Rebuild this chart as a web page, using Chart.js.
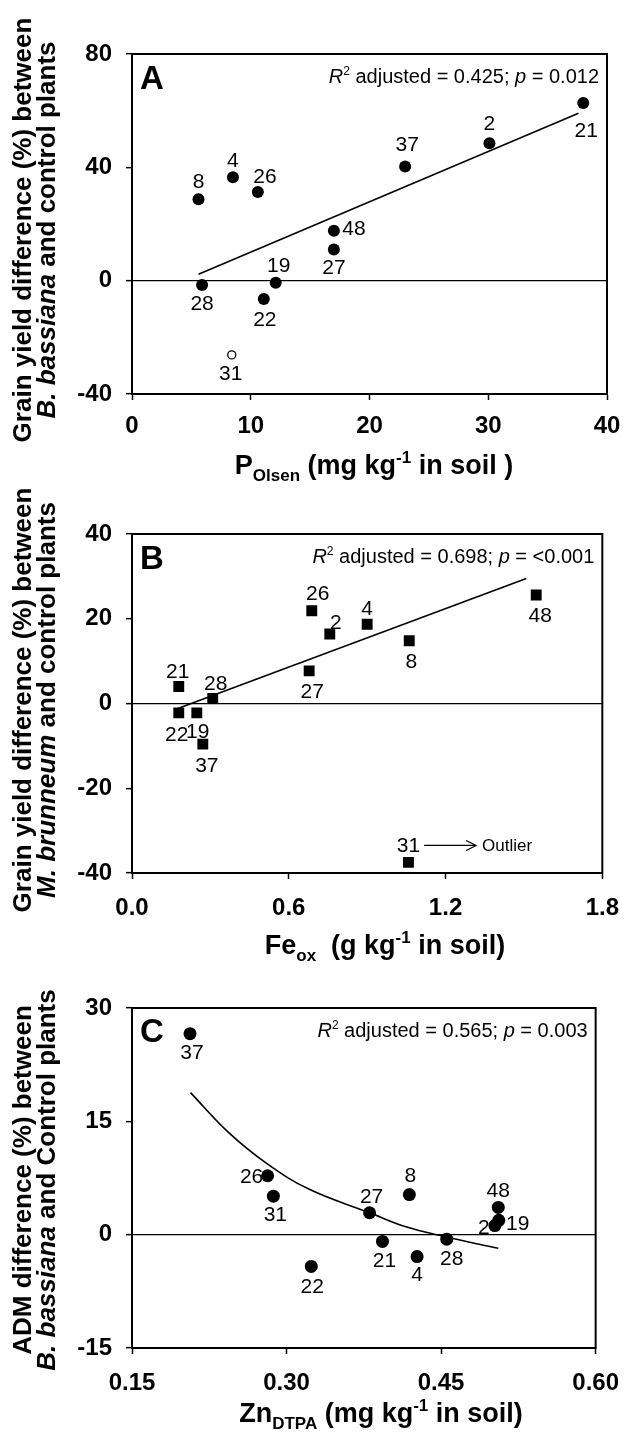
<!DOCTYPE html>
<html>
<head>
<meta charset="utf-8">
<script src="https://cdn.jsdelivr.net/npm/chart.js@4.4.1/dist/chart.umd.min.js"></script>
<style>
  html, body { margin: 0; padding: 0; background: #fff; }
  canvas { display: block; }
</style>
</head>
<body>
<canvas id="chartA" width="634" height="487"></canvas>
<canvas id="chartB" width="634" height="480"></canvas>
<canvas id="chartC" width="634" height="471"></canvas>
<script>
const FF = '"Liberation Sans", Arial, Helvetica, sans-serif';

// Panel A - B. bassiana grain yield vs P Olsen
const idsA = ['21', '2', '37', '8', '4', '26', '48', '27', '28', '19', '22'];
const pOlsenA = [38.0, 30.1, 23.0, 5.6, 8.5, 10.6, 17.0, 17.0, 5.9, 12.1, 11.1];
const yieldA = [62.7, 48.5, 40.3, 28.7, 36.5, 31.3, 17.6, 11.0, -1.5, -0.7, -6.5];
const outIdsA = ['31'];
const outXA = [8.4];
const outYA = [-26.2];
const fitXA = [5.6, 37.6];
const fitYA = [2.3, 59.1];
const xTicksA = [0, 10, 20, 30, 40];
const yTicksA = [-40, 0, 40, 80];

// Panel B - M. brunneum grain yield vs Fe ox
const idsB = ['26', '2', '4', '8', '48', '27', '21', '28', '22', '19', '37', '31'];
const feOxB = [0.688, 0.757, 0.900, 1.061, 1.547, 0.678, 0.179, 0.309, 0.179, 0.248, 0.271, 1.058];
const yieldB = [21.9, 16.4, 18.7, 14.8, 25.6, 7.7, 4.0, 1.2, -2.2, -2.2, -9.6, -37.5];
const fitXB = [0.165, 1.509];
const fitYB = [-1.4, 29.5];
const xTicksB = [0, 0.6, 1.2, 1.8];
const xTickLabelsB = ['0.0', '0.6', '1.2', '1.8'];
const yTicksB = [-40, -20, 0, 20, 40];

// Panel C - ADM vs Zn DTPA
const idsC = ['37', '26', '31', '27', '8', '48', '2', '19', '21', '4', '28', '22'];
const znC = [0.2063, 0.2816, 0.2872, 0.3806, 0.4192, 0.5055, 0.5022, 0.5060, 0.3931, 0.4267, 0.4555, 0.3240];
const admC = [26.6, 7.8, 5.1, 2.9, 5.3, 3.6, 1.2, 1.9, -0.9, -2.9, -0.6, -4.2];
const fitXC = [0.2068, 0.2431, 0.2810, 0.3221, 0.3806, 0.4167, 0.4548, 0.5055];
const fitYC = [18.8, 13.6, 9.4, 6.0, 2.9, 1.0, -0.3, -1.8];
const xTicksC = [0.15, 0.30, 0.45, 0.60];
const xTickLabelsC = ['0.15', '0.30', '0.45', '0.60'];
const yTicksC = [-15, 0, 15, 30];

// label placement (pixel offsets from each point), same order as the ids
const labelOffA = [[3, 26], [0, -21], [2, -23], [0, -19], [0, -18], [7, -17], [20, -3], [0, 17], [0, 18], [3, -18], [1, 19]];
const labelOffOutA = [[-1, 18]];
const labelOffB = [[6, -18], [6, -13], [0, -17], [2, 20], [4, 19], [3, 20], [-1, -16], [3, -16], [-2, 21], [1, 18], [4, 20], [0, -18]];
const labelOffC = [[2, 18], [-16, 0], [2, 17], [2, -17], [1, -20], [0, -18], [-11, 1], [19, 2], [2, 18], [0, 17], [5, 18], [1, 19]];

function pts(xs, ys) { return xs.map((x, i) => ({ x: x, y: ys[i] })); }

function fontStr(r) {
  return (r.style || 'normal') + ' ' + (r.w || 'normal') + ' ' + r.size + 'px ' + FF;
}

function drawRich(ctx, runs, x, y, align) {
  let total = 0;
  runs.forEach(r => { ctx.font = fontStr(r); r._w = ctx.measureText(r.t).width; total += r._w; });
  let cx = align === 'center' ? x - total / 2 : align === 'right' ? x - total : x;
  ctx.textAlign = 'left';
  ctx.textBaseline = 'alphabetic';
  runs.forEach(r => {
    ctx.font = fontStr(r);
    ctx.fillText(r.t, cx, y + (r.dy || 0));
    cx += r._w;
  });
}

function drawPanel(chart, p) {
  const ctx = chart.ctx, a = chart.chartArea, xs = chart.scales.x, ys = chart.scales.y;
  ctx.save();
  ctx.strokeStyle = '#000';
  ctx.lineWidth = 2;
  ctx.strokeRect(a.left, a.top, a.right - a.left, a.bottom - a.top);

  ctx.fillStyle = '#000';
  ctx.font = '21px ' + FF;
  ctx.textAlign = 'center';
  ctx.textBaseline = 'alphabetic';
  p.labels.forEach(L => {
    L.ids.forEach((id, i) => {
      const px = xs.getPixelForValue(L.xs[i]) + L.off[i][0];
      const py = ys.getPixelForValue(L.ys[i]) + L.off[i][1];
      ctx.fillText(id, px, py + 0.36 * 21);
    });
  });

  // panel letter
  ctx.font = 'bold 33px ' + FF;
  ctx.textAlign = 'left';
  ctx.fillText(p.letter, a.left + 8, a.top + p.letterY);

  // statistics
  drawRich(ctx, [
    { t: 'R', style: 'italic', size: 20 },
    { t: '2', size: 12, dy: -8 },
    { t: ' adjusted = ' + p.r2 + '; ', size: 20 },
    { t: 'p', style: 'italic', size: 20 },
    { t: ' = ' + p.pval, size: 20 }
  ], a.right - 8, a.top + 29, 'right');

  // axis titles
  drawRich(ctx, p.xTitle, p.xTitleX, p.xTitleY, 'center');
  p.yTitle.forEach((line, k) => {
    ctx.save();
    ctx.translate(k === 0 ? 31 : 55, p.yTitleY);
    ctx.rotate(-Math.PI / 2);
    drawRich(ctx, line, 0, 0, 'center');
    ctx.restore();
  });

  if (p.extra) p.extra(chart);
  ctx.restore();
}

function makeChart(id, p) {
  const canvas = document.getElementById(id);
  const H = canvas.height;
  const tickFont = { family: FF, size: 24, weight: 'bold' };
  return new Chart(canvas, {
    type: 'scatter',
    data: { datasets: p.datasets },
    options: {
      responsive: false,
      animation: false,
      events: [],
      devicePixelRatio: 1,
      layout: { padding: { left: 0, right: 27, top: p.top, bottom: 0 } },
      plugins: { legend: { display: false }, tooltip: { enabled: false } },
      scales: {
        x: {
          type: 'linear',
          min: p.xTicks[0],
          max: p.xTicks[p.xTicks.length - 1],
          afterBuildTicks: s => { s.ticks = p.xTicks.map(v => ({ value: v })); },
          afterFit: s => { s.height = H - p.bottom; },
          ticks: {
            font: tickFont, color: '#000', padding: p.xPad, maxRotation: 0, autoSkip: false,
            callback: (v, i) => p.xLabels ? p.xLabels[i] : String(v)
          },
          grid: { drawOnChartArea: false, drawTicks: true, tickLength: 6, tickColor: '#000', tickWidth: 1.5 },
          border: { display: true, color: '#000', width: 2 }
        },
        y: {
          type: 'linear',
          min: p.yTicks[0],
          max: p.yTicks[p.yTicks.length - 1],
          afterBuildTicks: s => { s.ticks = p.yTicks.map(v => ({ value: v })); },
          afterFit: s => { s.width = 132; },
          ticks: { font: tickFont, color: '#000', padding: 14, autoSkip: false },
          grid: {
            drawOnChartArea: true, drawTicks: true, tickLength: 6, tickColor: '#000', tickWidth: 1.5,
            lineWidth: 1.3,
            color: c => (c.tick && c.tick.value === 0) ? '#000' : 'rgba(0,0,0,0)'
          },
          border: { display: true, color: '#000', width: 2 }
        }
      }
    },
    plugins: [{ id: 'panel' + id, afterDraw: chart => drawPanel(chart, p) }]
  });
}

const B27 = { w: 'bold', size: 27 };
const B17 = { w: 'bold', size: 17 };
const B26 = { w: 'bold', size: 26 };

makeChart('chartA', {
  top: 54, bottom: 394, xPad: 12,
  xTicks: xTicksA, yTicks: yTicksA,
  letter: 'A', letterY: 35, r2: '0.425', pval: '0.012',
  xTitleX: 374, xTitleY: 474,
  xTitle: [
    Object.assign({ t: 'P' }, B27), Object.assign({ t: 'Olsen', dy: 7 }, B17),
    Object.assign({ t: ' (mg kg' }, B27), Object.assign({ t: '-1', dy: -11 }, B17),
    Object.assign({ t: ' in soil )' }, B27)
  ],
  yTitleY: 230,
  yTitle: [
    [Object.assign({ t: 'Grain yield difference (%) between' }, B26)],
    [Object.assign({ t: 'B. bassiana', style: 'italic' }, B26), Object.assign({ t: ' and control plants' }, B26)]
  ],
  labels: [
    { ids: idsA, xs: pOlsenA, ys: yieldA, off: labelOffA },
    { ids: outIdsA, xs: outXA, ys: outYA, off: labelOffOutA }
  ],
  datasets: [
    { type: 'line', data: pts(fitXA, fitYA), borderColor: '#000', borderWidth: 1.6, pointRadius: 0, fill: false },
    { data: pts(pOlsenA, yieldA), pointStyle: 'circle', pointRadius: 6, backgroundColor: '#000', borderColor: '#000', borderWidth: 0 },
    { data: pts(outXA, outYA), pointStyle: 'circle', pointRadius: 4, backgroundColor: '#fff', borderColor: '#000', borderWidth: 1.3 }
  ]
});

makeChart('chartB', {
  top: 47, bottom: 386, xPad: 15,
  xTicks: xTicksB, xLabels: xTickLabelsB, yTicks: yTicksB,
  letter: 'B', letterY: 35, r2: '0.698', pval: '<0.001',
  xTitleX: 385, xTitleY: 467,
  xTitle: [
    Object.assign({ t: 'Fe' }, B27), Object.assign({ t: 'ox', dy: 7 }, B17),
    Object.assign({ t: '  (g kg' }, B27), Object.assign({ t: '-1', dy: -11 }, B17),
    Object.assign({ t: ' in soil)' }, B27)
  ],
  yTitleY: 213,
  yTitle: [
    [Object.assign({ t: 'Grain yield difference (%) between' }, B26)],
    [Object.assign({ t: 'M. brunneum', style: 'italic' }, B26), Object.assign({ t: ' and control plants' }, B26)]
  ],
  labels: [{ ids: idsB, xs: feOxB, ys: yieldB, off: labelOffB }],
  datasets: [
    { type: 'line', data: pts(fitXB, fitYB), borderColor: '#000', borderWidth: 1.6, pointRadius: 0, fill: false },
    { data: pts(feOxB, yieldB), pointStyle: 'rect', pointRadius: 7.7, backgroundColor: '#000', borderColor: '#000', borderWidth: 0 }
  ],
  extra: chart => {
    const ctx = chart.ctx, xs = chart.scales.x, ys = chart.scales.y;
    const x1 = xs.getPixelForValue(1.118), x2 = xs.getPixelForValue(1.317);
    const y = ys.getPixelForValue(-33.5);
    ctx.strokeStyle = '#000';
    ctx.lineWidth = 1.2;
    ctx.beginPath();
    ctx.moveTo(x1, y); ctx.lineTo(x2, y);
    ctx.moveTo(x2 - 10, y - 5); ctx.lineTo(x2, y); ctx.lineTo(x2 - 10, y + 5);
    ctx.stroke();
    ctx.font = '17px ' + FF;
    ctx.textAlign = 'left';
    ctx.fillText('Outlier', x2 + 6, y + 6);
  }
});

makeChart('chartC', {
  top: 41, bottom: 381, xPad: 15,
  xTicks: xTicksC, xLabels: xTickLabelsC, yTicks: yTicksC,
  letter: 'C', letterY: 34, r2: '0.565', pval: '0.003',
  xTitleX: 381, xTitleY: 455,
  xTitle: [
    Object.assign({ t: 'Zn' }, B27), Object.assign({ t: 'DTPA', dy: 7 }, B17),
    Object.assign({ t: ' (mg kg' }, B27), Object.assign({ t: '-1', dy: -11 }, B17),
    Object.assign({ t: ' in soil)' }, B27)
  ],
  yTitleY: 213,
  yTitle: [
    [Object.assign({ t: 'ADM difference (%) between' }, B26)],
    [Object.assign({ t: 'B. bassiana', style: 'italic' }, B26), Object.assign({ t: ' and Control plants' }, B26)]
  ],
  labels: [{ ids: idsC, xs: znC, ys: admC, off: labelOffC }],
  datasets: [
    { type: 'line', data: pts(fitXC, fitYC), borderColor: '#000', borderWidth: 1.6, pointRadius: 0, fill: false, tension: 0.4 },
    { data: pts(znC, admC), pointStyle: 'circle', pointRadius: 6.5, backgroundColor: '#000', borderColor: '#000', borderWidth: 0 }
  ]
});
</script>
</body>
</html>
